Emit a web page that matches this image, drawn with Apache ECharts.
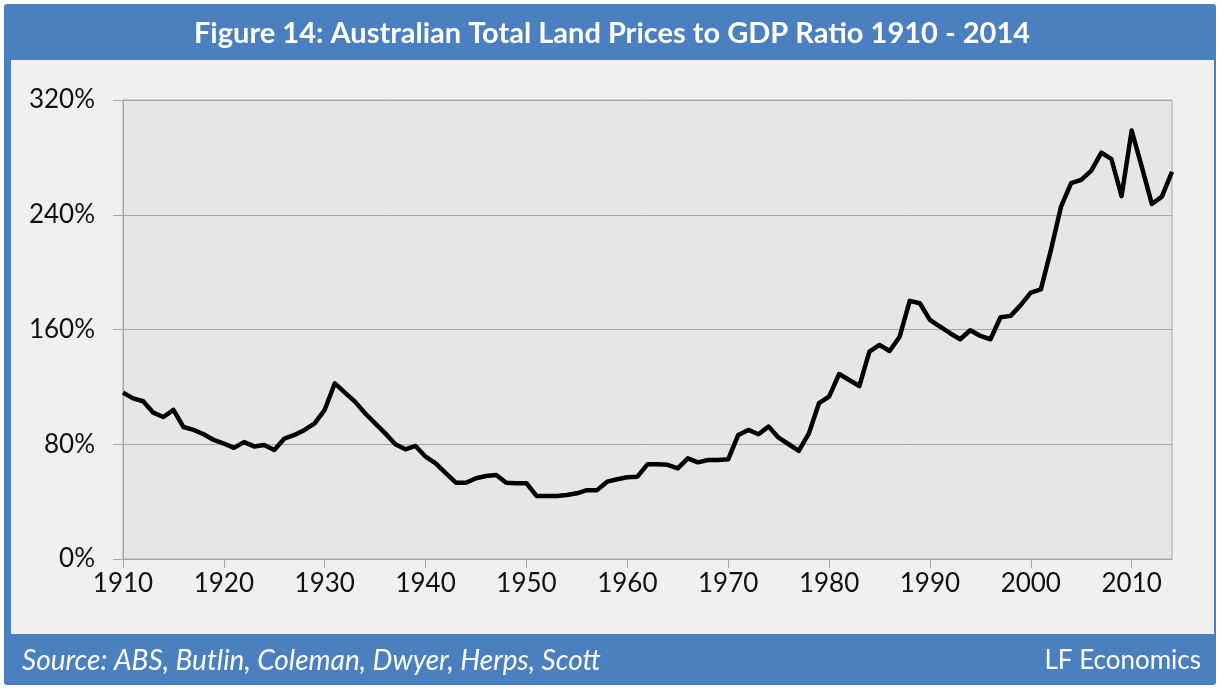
<!DOCTYPE html>
<html>
<head>
<meta charset="utf-8">
<script src="https://cdn.jsdelivr.net/npm/echarts@6/dist/echarts.min.js"></script>
<style>
  html, body { margin: 0; padding: 0; background: #fff; }
  #main { width: 1220px; height: 688px; }
</style>
</head>
<body>
<div id="main"></div>
<script>
// land prices / GDP, percent, one value per year from 1910
var startYear = 1910
var ratioValues = [
  116, 112, 110, 102, 99, 104, 92, 90, 87, 83,
  80.5, 77.5, 81.5, 78.5, 79.5, 76, 84, 86.5, 90, 94.6,
  104, 122.5, 116, 109.7, 101.6, 94.6, 87.6, 80, 76.5, 78.8,
  71.3, 66.7, 59.8, 53.2, 53.2, 56.3, 57.9, 58.6, 53.2, 52.8,
  52.8, 44, 44, 44, 44.6, 45.8, 48, 48, 53.9, 55.6,
  57, 57.4, 66, 66, 65.7, 63.2, 70.2, 67.4, 69, 69,
  69.5, 86.5, 90, 87, 92.3, 84.6, 80, 75.3, 87.6, 108.6,
  113.2, 129, 124.8, 120.6, 144.6, 149.2, 145, 155, 180, 178.3,
  166.7, 162, 157.4, 153.2, 159.5, 155.5, 153.2, 168.5, 169.5, 177,
  185.7, 188, 215.5, 245.7, 262, 264.3, 270.8, 283.3, 278.7, 253,
  298.7, 273.6, 247.6, 252.6, 270
]
var yTicks = [0, 80, 160, 240, 320]

var years = []
for (var i = 0; i < ratioValues.length; i++) {
  years.push(String(startYear + i))
}

var blue = '#4a7fc0'
var font = 'Lato'

var myChart = echarts.init(document.getElementById('main'))
var option = {
  backgroundColor: '#ffffff',
  animation: false,
  graphic: [
    {
      type: 'rect',
      z: -10,
      shape: { x: 4, y: 4, width: 1212, height: 681, r: 3 },
      style: { fill: blue }
    },
    {
      type: 'rect',
      z: -9,
      shape: { x: 11, y: 60, width: 1203, height: 574 },
      style: { fill: '#f0f0f0' }
    },
    {
      type: 'text',
      x: 612,
      y: 34,
      style: {
        text: 'Figure 14: Australian Total Land Prices to GDP Ratio 1910 - 2014',
        fill: '#ffffff',
        font: 'bold 29px ' + font,
        textAlign: 'center',
        textVerticalAlign: 'middle'
      }
    },
    {
      type: 'text',
      x: 22,
      y: 661,
      style: {
        text: 'Source: ABS, Butlin, Coleman, Dwyer, Herps, Scott',
        fill: '#ffffff',
        font: 'italic 28px ' + font,
        textAlign: 'left',
        textVerticalAlign: 'middle'
      }
    },
    {
      type: 'text',
      x: 1201,
      y: 661,
      style: {
        text: 'LF Economics',
        fill: '#ffffff',
        font: '26px ' + font,
        textAlign: 'right',
        textVerticalAlign: 'middle'
      }
    }
  ],
  grid: {
    left: 123,
    top: 100,
    width: 1049,
    height: 459,
    show: true,
    backgroundColor: '#e6e6e6',
    borderColor: '#a6a6a6',
    borderWidth: 1
  },
  xAxis: {
    type: 'category',
    boundaryGap: false,
    data: years,
    axisLine: { lineStyle: { color: '#a6a6a6', width: 1 } },
    axisTick: { interval: 9, length: 9, lineStyle: { color: '#a6a6a6' } },
    axisLabel: {
      interval: 9,
      margin: 12,
      color: '#111',
      fontFamily: font,
      fontSize: 26
    },
    splitLine: { show: false }
  },
  yAxis: {
    type: 'value',
    min: yTicks[0],
    max: yTicks[yTicks.length - 1],
    interval: 80,
    axisLine: { show: true, lineStyle: { color: '#a6a6a6', width: 1 } },
    axisTick: { show: true, length: 10, lineStyle: { color: '#a6a6a6' } },
    axisLabel: {
      margin: 28,
      color: '#111',
      fontFamily: font,
      fontSize: 26,
      formatter: '{value}%'
    },
    splitLine: { lineStyle: { color: '#a6a6a6', width: 1 } }
  },
  series: [
    {
      name: 'Land prices to GDP',
      type: 'line',
      data: ratioValues,
      showSymbol: false,
      lineStyle: { color: '#000', width: 4.5, join: 'round' },
      itemStyle: { color: '#000' }
    }
  ]
}
myChart.setOption(option)
</script>
</body>
</html>
